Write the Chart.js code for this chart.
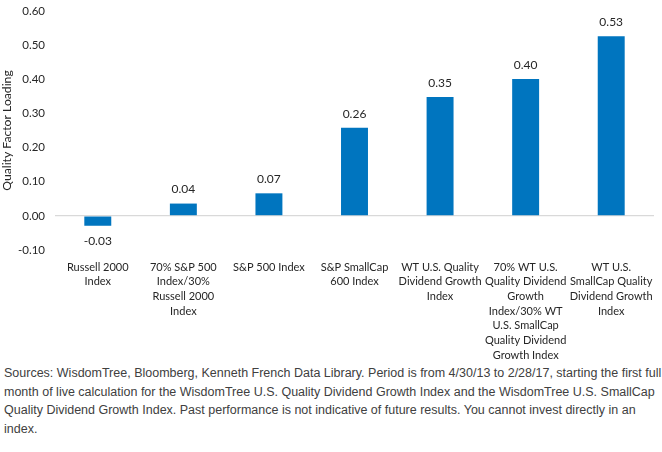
<!DOCTYPE html>
<html>
<head>
<meta charset="utf-8">
<script src="https://cdn.jsdelivr.net/npm/chart.js@4/dist/chart.umd.min.js"></script>
<style>
  html, body { margin: 0; padding: 0; background: #fff; }
  #wrap { position: relative; width: 662px; height: 364px; }
  #note { font-family: "Liberation Sans", Arial, sans-serif; font-size: 12.5px; line-height: 18.5px; color: #404040; padding: 0 0 0 4px; width: 658px; }
</style>
</head>
<body>
<div id="wrap"><canvas id="c"></canvas></div>
<div id="note">Sources: WisdomTree, Bloomberg, Kenneth French Data Library. Period is from 4/30/13 to 2/28/17, starting the first full month of live calculation for the WisdomTree U.S. Quality Dividend Growth Index and the WisdomTree U.S. SmallCap Quality Dividend Growth Index. Past performance is not indicative of future results. You cannot invest directly in an index.</div>
<script>
const categories = [
  ["Russell 2000", "Index"],
  ["70% S&P 500", "Index/30%", "Russell 2000", "Index"],
  ["S&P 500 Index"],
  ["S&P SmallCap", "600 Index"],
  ["WT U.S. Quality", "Dividend Growth", "Index"],
  ["70% WT U.S.", "Quality Dividend", "Growth", "Index/30% WT", "U.S. SmallCap", "Quality Dividend", "Growth Index"],
  ["WT U.S.", "SmallCap Quality", "Dividend Growth", "Index"]
];
const qualityLoading = [-0.029, 0.036, 0.066, 0.258, 0.348, 0.401, 0.526];
const yTicks = [-0.1, 0, 0.1, 0.2, 0.3, 0.4, 0.5, 0.6];

const FONT = "Lato, 'Open Sans', sans-serif";
const TEXT = "#262626";

const valueLabels = {
  id: "valueLabels",
  afterDatasetsDraw(chart) {
    const ctx = chart.ctx;
    const meta = chart.getDatasetMeta(0);
    ctx.save();
    ctx.font = "12px " + FONT;
    ctx.fillStyle = TEXT;
    ctx.textAlign = "center";
    ctx.textBaseline = "middle";
    meta.data.forEach((bar, i) => {
      const v = chart.data.datasets[0].data[i];
      const y = v >= 0 ? bar.y - 14 : bar.y + 15;
      ctx.fillText(v.toFixed(2), bar.x, y);
    });
    ctx.restore();
  }
};

new Chart(document.getElementById("c"), {
  type: "bar",
  data: {
    labels: categories,
    datasets: [{
      data: qualityLoading,
      backgroundColor: "#0075BF",
      barPercentage: 0.315,
      categoryPercentage: 1.0
    }]
  },
  options: {
    responsive: true,
    maintainAspectRatio: false,
    animation: false,
    layout: { padding: { top: 11, right: 8, left: 0, bottom: 0 } },
    plugins: { legend: { display: false }, tooltip: { enabled: false } },
    scales: {
      x: {
        grid: { display: false },
        border: { display: false },
        afterFit(scale) { scale.height = 114; },
        ticks: {
          color: TEXT,
          font: { family: FONT, size: 11, lineHeight: 1.33 },
          maxRotation: 0,
          autoSkip: false,
          padding: 2
        }
      },
      y: {
        min: -0.1,
        max: 0.6,
        afterBuildTicks(scale) { scale.ticks = yTicks.map(v => ({ value: v })); },
        afterFit(scale) { scale.width = 55; scale.paddingTop = 0; scale.paddingBottom = 0; },
        border: { display: false },
        grid: {
          color: ctx => (ctx.tick && Math.abs(ctx.tick.value) < 1e-9) ? "#D9D9D9" : "rgba(0,0,0,0)",
          lineWidth: 1.3,
          drawTicks: false
        },
        ticks: {
          color: TEXT,
          font: { family: FONT, size: 11.5 },
          padding: 10,
          callback: v => v.toFixed(2)
        },
        title: {
          display: true,
          text: "Quality Factor Loading",
          color: TEXT,
          font: { family: FONT, size: 12.2 },
          padding: { top: 0, bottom: 0 }
        }
      }
    }
  },
  plugins: [valueLabels]
});
</script>
</body>
</html>
